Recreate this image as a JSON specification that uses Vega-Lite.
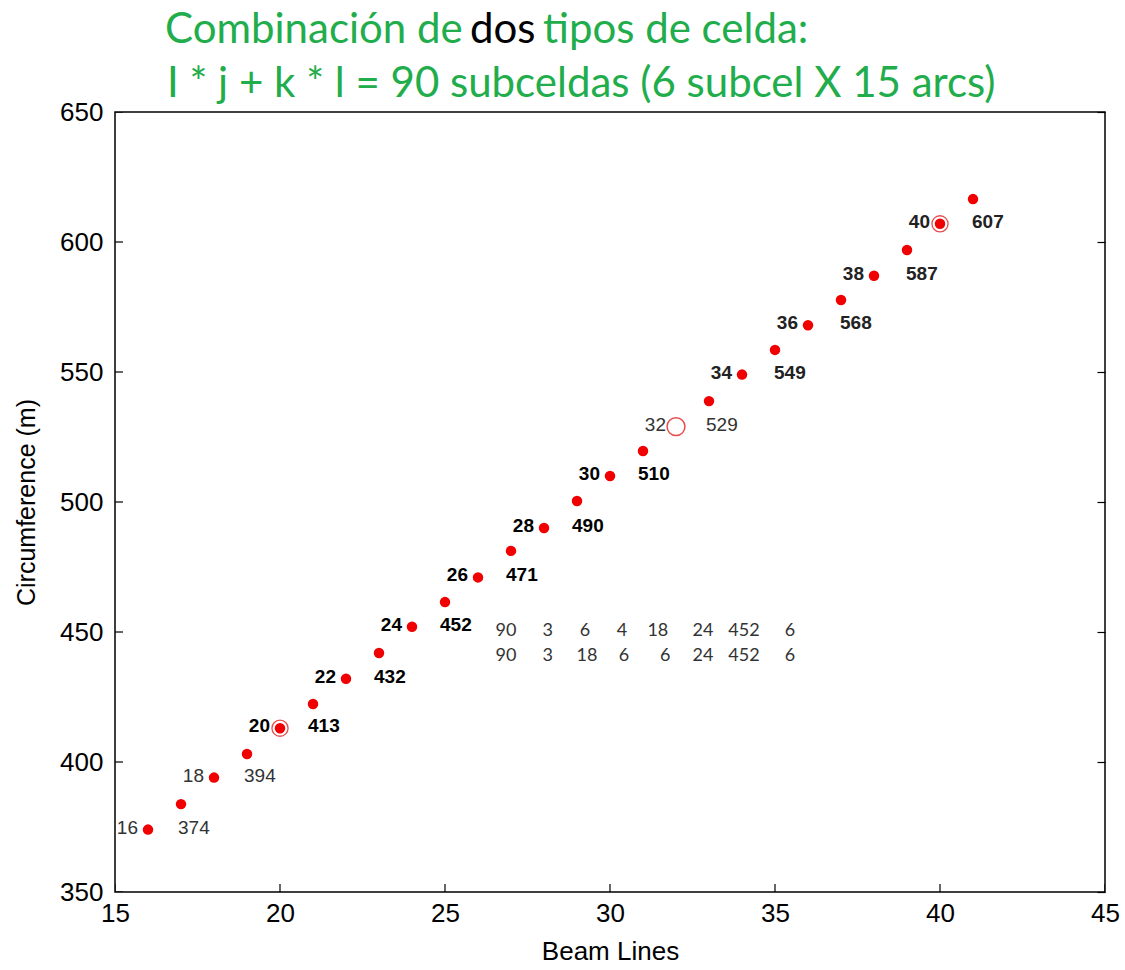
{
  "$schema": "https://vega.github.io/schema/vega-lite/v6.json",
  "width": 990,
  "height": 780,
  "autosize": {"type": "none"},
  "padding": {"left": 115, "top": 112, "right": 20, "bottom": 78},
  "background": "white",
  "config": {
    "view": {"stroke": "#000", "strokeWidth": 1.5},
    "font": "Liberation Sans",
    "axis": {"grid": false, "domain": false, "tickColor": "#000", "tickWidth": 1.2, "labelColor": "#000", "titleColor": "#000", "titleFontWeight": "normal", "labelFlush": false, "zindex": 1}
  },
  "datasets": {
    "pts": [
      {"bl": 16, "c": 374, "kind": "dot", "w": "regular"},
      {"bl": 17, "c": 383.8, "kind": "dot", "w": "none"},
      {"bl": 18, "c": 394, "kind": "dot", "w": "regular"},
      {"bl": 19, "c": 403.1, "kind": "dot", "w": "none"},
      {"bl": 20, "c": 413, "kind": "ring", "w": "bold"},
      {"bl": 21, "c": 422.3, "kind": "dot", "w": "none"},
      {"bl": 22, "c": 432, "kind": "dot", "w": "bold"},
      {"bl": 23, "c": 441.9, "kind": "dot", "w": "none"},
      {"bl": 24, "c": 452, "kind": "dot", "w": "bold"},
      {"bl": 25, "c": 461.5, "kind": "dot", "w": "none"},
      {"bl": 26, "c": 471, "kind": "dot", "w": "bold"},
      {"bl": 27, "c": 481.2, "kind": "dot", "w": "none"},
      {"bl": 28, "c": 490, "kind": "dot", "w": "bold"},
      {"bl": 29, "c": 500.4, "kind": "dot", "w": "none"},
      {"bl": 30, "c": 510, "kind": "dot", "w": "bold"},
      {"bl": 31, "c": 519.6, "kind": "dot", "w": "none"},
      {"bl": 32, "c": 529, "kind": "open", "w": "regular"},
      {"bl": 33, "c": 538.8, "kind": "dot", "w": "none"},
      {"bl": 34, "c": 549, "kind": "dot", "w": "medium"},
      {"bl": 35, "c": 558.5, "kind": "dot", "w": "none"},
      {"bl": 36, "c": 568, "kind": "dot", "w": "medium"},
      {"bl": 37, "c": 577.7, "kind": "dot", "w": "none"},
      {"bl": 38, "c": 587, "kind": "dot", "w": "medium"},
      {"bl": 39, "c": 596.9, "kind": "dot", "w": "none"},
      {"bl": 40, "c": 607, "kind": "ring", "w": "medium"},
      {"bl": 41, "c": 616.5, "kind": "dot", "w": "none"}
    ],
    "tbl": [
      {"bl": 26.85, "c": 450.4, "v": "90"},
      {"bl": 28.11, "c": 450.4, "v": "3"},
      {"bl": 29.24, "c": 450.4, "v": "6"},
      {"bl": 30.36, "c": 450.4, "v": "4"},
      {"bl": 31.45, "c": 450.4, "v": "18"},
      {"bl": 32.82, "c": 450.4, "v": "24"},
      {"bl": 34.06, "c": 450.4, "v": "452"},
      {"bl": 35.45, "c": 450.4, "v": "6"},
      {"bl": 26.85, "c": 440.8, "v": "90"},
      {"bl": 28.11, "c": 440.8, "v": "3"},
      {"bl": 29.3, "c": 440.8, "v": "18"},
      {"bl": 30.42, "c": 440.8, "v": "6"},
      {"bl": 31.67, "c": 440.8, "v": "6"},
      {"bl": 32.82, "c": 440.8, "v": "24"},
      {"bl": 34.06, "c": 440.8, "v": "452"},
      {"bl": 35.45, "c": 440.8, "v": "6"}
    ],
    "xticks": [{"v": 15}, {"v": 20}, {"v": 25}, {"v": 30}, {"v": 35}, {"v": 40}, {"v": 45}],
    "yticks": [{"v": 350}, {"v": 400}, {"v": 450}, {"v": 500}, {"v": 550}, {"v": 600}, {"v": 650}]
  },
  "data": {"name": "pts"},
  "layer": [
    {
      "data": {"name": "yticks"},
      "mark": {"type": "tick", "orient": "horizontal", "size": 16, "thickness": 1.2, "color": "#000", "opacity": 1, "clip": true},
      "encoding": {
        "x": {"datum": 15, "type": "quantitative", "scale": {"domain": [15, 45], "nice": false}, "axis": null},
        "y": {"field": "v", "type": "quantitative", "scale": {"domain": [350, 650], "nice": false}, "axis": null}
      }
    },
    {
      "data": {"name": "xticks"},
      "mark": {"type": "tick", "orient": "vertical", "size": 16, "thickness": 1.2, "color": "#000", "opacity": 1, "clip": true},
      "encoding": {
        "x": {"field": "v", "type": "quantitative", "scale": {"domain": [15, 45], "nice": false}, "axis": null},
        "y": {"datum": 350, "type": "quantitative", "scale": {"domain": [350, 650], "nice": false}, "axis": null}
      }
    },
    {
      "transform": [{"filter": "datum.kind != 'open'"}],
      "mark": {"type": "circle", "size": 110, "color": "#f00000", "opacity": 1},
      "encoding": {
        "x": {"field": "bl", "type": "quantitative", "scale": {"domain": [15, 45], "nice": false},
              "axis": {"orient": "bottom", "values": [15, 20, 25, 30, 35, 40, 45], "ticks": false, "tickSize": 0, "labelFontSize": 26, "labelPadding": 8, "title": "Beam Lines", "titleFontSize": 26, "titlePadding": 12}},
        "y": {"field": "c", "type": "quantitative", "scale": {"domain": [350, 650], "nice": false},
              "axis": {"orient": "left", "values": [350, 400, 450, 500, 550, 600, 650], "ticks": false, "tickSize": 0, "labelFontSize": 26, "labelPadding": 12, "title": "Circumference (m)", "titleFontSize": 25, "titlePadding": 20}}
      }
    },
    {
      "transform": [{"filter": "datum.kind == 'ring'"}],
      "mark": {"type": "point", "shape": "circle", "filled": false, "size": 260, "stroke": "#e00000", "strokeWidth": 1.3},
      "encoding": {
        "x": {"field": "bl", "type": "quantitative", "scale": {"domain": [15, 45], "nice": false}, "axis": null},
        "y": {"field": "c", "type": "quantitative", "scale": {"domain": [350, 650], "nice": false},
              "axis": {"orient": "right", "values": [350, 400, 450, 500, 550, 600, 650], "tickSize": -8, "labels": false, "title": null}}
      }
    },
    {
      "transform": [{"filter": "datum.kind == 'open'"}],
      "mark": {"type": "point", "shape": "circle", "filled": false, "size": 320, "stroke": "#e00000", "strokeWidth": 1.5},
      "encoding": {
        "x": {"field": "bl", "type": "quantitative", "scale": {"domain": [15, 45], "nice": false}, "axis": null},
        "y": {"field": "c", "type": "quantitative", "scale": {"domain": [350, 650], "nice": false}, "axis": null}
      }
    },
    {
      "transform": [{"filter": "datum.w == 'regular'"}],
      "mark": {"type": "text", "align": "right", "baseline": "middle", "dx": -10, "dy": -2, "fontSize": 19, "color": "#333"},
      "encoding": {
        "x": {"field": "bl", "type": "quantitative", "scale": {"domain": [15, 45], "nice": false}, "axis": null},
        "y": {"field": "c", "type": "quantitative", "scale": {"domain": [350, 650], "nice": false}, "axis": null},
        "text": {"field": "bl", "type": "quantitative", "format": "d"}
      }
    },
    {
      "transform": [{"filter": "datum.w == 'regular'"}],
      "mark": {"type": "text", "align": "left", "baseline": "middle", "dx": 30, "dy": -2, "fontSize": 19, "color": "#333"},
      "encoding": {
        "x": {"field": "bl", "type": "quantitative", "scale": {"domain": [15, 45], "nice": false}, "axis": null},
        "y": {"field": "c", "type": "quantitative", "scale": {"domain": [350, 650], "nice": false}, "axis": null},
        "text": {"field": "c", "type": "quantitative", "format": "d"}
      }
    },
    {
      "transform": [{"filter": "datum.w == 'bold'"}],
      "mark": {"type": "text", "align": "right", "baseline": "middle", "dx": -10, "dy": -2, "fontSize": 19, "fontWeight": "bold", "color": "#000"},
      "encoding": {
        "x": {"field": "bl", "type": "quantitative", "scale": {"domain": [15, 45], "nice": false}, "axis": null},
        "y": {"field": "c", "type": "quantitative", "scale": {"domain": [350, 650], "nice": false}, "axis": null},
        "text": {"field": "bl", "type": "quantitative", "format": "d"}
      }
    },
    {
      "transform": [{"filter": "datum.w == 'bold'"}],
      "mark": {"type": "text", "align": "left", "baseline": "middle", "dx": 28, "dy": -2, "fontSize": 19, "fontWeight": "bold", "color": "#000"},
      "encoding": {
        "x": {"field": "bl", "type": "quantitative", "scale": {"domain": [15, 45], "nice": false}, "axis": null},
        "y": {"field": "c", "type": "quantitative", "scale": {"domain": [350, 650], "nice": false}, "axis": null},
        "text": {"field": "c", "type": "quantitative", "format": "d"}
      }
    },
    {
      "transform": [{"filter": "datum.w == 'medium'"}],
      "mark": {"type": "text", "align": "right", "baseline": "middle", "dx": -10, "dy": -2, "fontSize": 19, "fontWeight": "bold", "color": "#222"},
      "encoding": {
        "x": {"field": "bl", "type": "quantitative", "scale": {"domain": [15, 45], "nice": false}, "axis": null},
        "y": {"field": "c", "type": "quantitative", "scale": {"domain": [350, 650], "nice": false}, "axis": null},
        "text": {"field": "bl", "type": "quantitative", "format": "d"}
      }
    },
    {
      "transform": [{"filter": "datum.w == 'medium'"}],
      "mark": {"type": "text", "align": "left", "baseline": "middle", "dx": 32, "dy": -2, "fontSize": 19, "fontWeight": "bold", "color": "#222"},
      "encoding": {
        "x": {"field": "bl", "type": "quantitative", "scale": {"domain": [15, 45], "nice": false}, "axis": null},
        "y": {"field": "c", "type": "quantitative", "scale": {"domain": [350, 650], "nice": false}, "axis": null},
        "text": {"field": "c", "type": "quantitative", "format": "d"}
      }
    },
    {
      "data": {"name": "tbl"},
      "mark": {"type": "text", "align": "center", "baseline": "middle", "font": "Lato", "fontSize": 18, "color": "#333"},
      "encoding": {
        "x": {"field": "bl", "type": "quantitative", "scale": {"domain": [15, 45], "nice": false}, "axis": null},
        "y": {"field": "c", "type": "quantitative", "scale": {"domain": [350, 650], "nice": false}, "axis": null},
        "text": {"field": "v", "type": "nominal"}
      }
    },
    {
      "data": {"values": [{}]},
      "mark": {"type": "text", "align": "left", "baseline": "alphabetic", "font": "Lato", "fontSize": 42, "color": "#21ad4b"},
      "encoding": {
        "x": {"datum": 16.515, "type": "quantitative", "scale": {"domain": [15, 45], "nice": false}, "axis": null},
        "y": {"datum": 676.5, "type": "quantitative", "scale": {"domain": [350, 650], "nice": false}, "axis": null},
        "text": {"value": "Combinación de"}
      }
    },
    {
      "data": {"values": [{}]},
      "mark": {"type": "text", "align": "left", "baseline": "alphabetic", "font": "Lato", "fontSize": 42, "color": "#000"},
      "encoding": {
        "x": {"datum": 25.758, "type": "quantitative", "scale": {"domain": [15, 45], "nice": false}, "axis": null},
        "y": {"datum": 676.5, "type": "quantitative", "scale": {"domain": [350, 650], "nice": false}, "axis": null},
        "text": {"value": "dos"}
      }
    },
    {
      "data": {"values": [{}]},
      "mark": {"type": "text", "align": "left", "baseline": "alphabetic", "font": "Lato", "fontSize": 42, "color": "#21ad4b"},
      "encoding": {
        "x": {"datum": 27.97, "type": "quantitative", "scale": {"domain": [15, 45], "nice": false}, "axis": null},
        "y": {"datum": 676.5, "type": "quantitative", "scale": {"domain": [350, 650], "nice": false}, "axis": null},
        "text": {"value": "tipos de celda:"}
      }
    },
    {
      "data": {"values": [{}]},
      "mark": {"type": "text", "align": "left", "baseline": "alphabetic", "font": "Lato", "fontSize": 42, "color": "#21ad4b"},
      "encoding": {
        "x": {"datum": 16.576, "type": "quantitative", "scale": {"domain": [15, 45], "nice": false}, "axis": null},
        "y": {"datum": 655.8, "type": "quantitative", "scale": {"domain": [350, 650], "nice": false}, "axis": null},
        "text": {"value": "I * j + k * l = 90 subceldas (6 subcel X 15 arcs)"}
      }
    }
  ],
  "resolve": {"axis": {"x": "independent", "y": "independent"}}
}
